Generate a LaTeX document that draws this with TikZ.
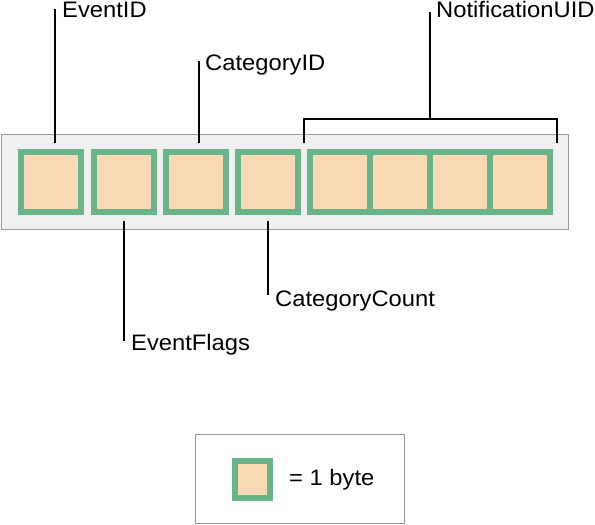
\documentclass[tikz,border=0pt]{standalone}
\usepackage{fontspec}
\setmainfont{Liberation Sans}[FakeStretch=1.06]
\definecolor{bytegreen}{HTML}{6AB48A}
\definecolor{bytefill}{HTML}{FAD9B5}
\definecolor{panelgray}{HTML}{F0F0F0}
\definecolor{panelline}{HTML}{999999}
\begin{document}
\begin{tikzpicture}[x=1pt,y=-1pt,
  bytebox/.style={draw=bytegreen, fill=bytefill, line width=6pt, minimum width=60pt, minimum height=60pt, inner sep=0pt, outer sep=0pt},
  lbl/.style={anchor=base west, inner sep=0pt, font=\fontsize{22.4}{26}\selectfont},
  leader/.style={draw=black, line width=2pt},
  panel/.style={draw=panelline, line width=1.3pt}
]
\useasboundingbox (0,0) rectangle (595,525);
% container
\node[panel, fill=panelgray, minimum width=567pt, minimum height=95pt, inner sep=0pt, anchor=north west] (panel) at (1,134) {};
% bytes
\node[bytebox] (b1) at (51,182) {};
\node[bytebox] (b2) at (124,182) {};
\node[bytebox] (b3) at (196,182) {};
\node[bytebox] (b4) at (268,182) {};
\node[bytebox] (b5) at (340,182) {};
\node[bytebox] (b6) at (400,182) {};
\node[bytebox] (b7) at (460,182) {};
\node[bytebox] (b8) at (520,182) {};
% labels
\node[lbl] (eid) at (62,17.3) {EventID};
\node[lbl] (cid) at (205,70) {CategoryID};
\node[lbl] (nuid) at (436,17.3) {NotificationUID};
\node[lbl] (efl) at (131,350) {EventFlags};
\node[lbl] (ccnt) at (275,306) {CategoryCount};
% leader coordinates
\coordinate (eidt) at (54.5,9);
\coordinate (eidb) at (54.5,143);
\coordinate (cidt) at (198.5,61);
\coordinate (cidb) at (198.5,143);
\coordinate (nuidt) at (430,12.3);
\coordinate (nuidb) at (430,119);
\coordinate (brl) at (304,143);
\coordinate (brr) at (556.5,143);
\coordinate (eflt) at (124,221);
\coordinate (eflb) at (124,341);
\coordinate (ccntt) at (268,221);
\coordinate (ccntb) at (268,295);
\draw[leader] (eidt) -- (eidb);
\draw[leader] (cidt) -- (cidb);
\draw[leader] (nuidt) -- (nuidb);
\draw[leader] (brl) |- (nuidb) -| (brr);
\draw[leader] (eflt) -- (eflb);
\draw[leader] (ccntt) -- (ccntb);
% legend
\node[panel, fill=white, minimum width=209pt, minimum height=89pt, inner sep=0pt, anchor=north west] (legend) at (195,434) {};
\node[bytebox, minimum width=35pt, minimum height=37pt] (lb) at (252.5,479.5) {};
\node[lbl] (ltext) at (289,485) {= 1 byte};
\end{tikzpicture}
\end{document}
